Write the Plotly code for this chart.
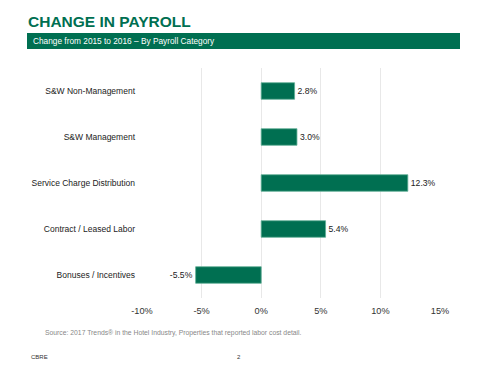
import plotly.graph_objects as go

categories = ["S&W Non-Management", "S&W Management", "Service Charge Distribution",
              "Contract / Leased Labor", "Bonuses / Incentives"]
values = [2.8, 3.0, 12.3, 5.4, -5.5]
labels = ["2.8%", "3.0%", "12.3%", "5.4%", "-5.5%"]
tick_vals = [-10, -5, 0, 5, 10, 15]
tick_text = ["-10%", "-5%", "0%", "5%", "10%", "15%"]

GREEN = "#006F51"
FONT = "Liberation Sans, Arial"

W, H = 480, 371
pl, pr, pt, pb = 142, 40, 68, 73
pw, ph = W - pl - pr, H - pt - pb

def px(x):
    return (x - pl) / pw

def py(y):
    return 1 - (y - pt) / ph

fig = go.Figure()
fig.add_trace(go.Bar(
    y=categories, x=values, orientation="h",
    marker=dict(color=GREEN, line=dict(color="#5fae96", width=0.8)),
    width=0.36,
    text=labels, textposition="outside",
    textfont=dict(family=FONT, size=8.6, color="#222222"),
    cliponaxis=False,
))

fig.update_layout(
    width=W, height=H,
    margin=dict(l=pl, r=pr, t=pt, b=pb, autoexpand=False),
    paper_bgcolor="white", plot_bgcolor="white",
    showlegend=False,
    font=dict(family=FONT, color="#222222"),
    xaxis=dict(range=[-10, 15], tickvals=tick_vals, ticktext=tick_text,
               showgrid=True, gridcolor="#e8e8e8", gridwidth=1,
               zeroline=False, showline=False, automargin=False,
               ticklabelstandoff=6,
               tickfont=dict(size=9.2, color="#333333"), ticks=""),
    yaxis=dict(autorange="reversed", showgrid=False, zeroline=False, showline=False,
               ticks="", ticklabelstandoff=6, automargin=False,
               tickfont=dict(size=8.5, color="#222222")),
)

fig.add_annotation(text="<b>CHANGE IN PAYROLL</b>", x=px(26), y=py(21),
                   xref="paper", yref="paper", xanchor="left", yanchor="middle",
                   showarrow=False, font=dict(size=15.5, color=GREEN, family=FONT))
fig.add_shape(type="rect", xref="paper", yref="paper",
              x0=px(27), x1=px(460), y0=py(33), y1=py(49),
              fillcolor=GREEN, line=dict(width=0), layer="below")
fig.add_annotation(text="Change from 2015 to 2016 \u2013 By Payroll Category", x=px(31), y=py(41),
                   xref="paper", yref="paper", xanchor="left", yanchor="middle",
                   showarrow=False, font=dict(size=8.3, color="white", family=FONT))
fig.add_annotation(text="Source: 2017 Trends\u00ae in the Hotel Industry, Properties that reported labor cost detail.",
                   x=px(43), y=py(333), xref="paper", yref="paper", xanchor="left", yanchor="middle",
                   showarrow=False, font=dict(size=6.8, color="#888888", family=FONT))
fig.add_annotation(text="CBRE", x=px(29), y=py(357), xref="paper", yref="paper",
                   xanchor="left", yanchor="middle", showarrow=False,
                   font=dict(size=6, color="#333333", family=FONT))
fig.add_annotation(text="2", x=px(239), y=py(357), xref="paper", yref="paper",
                   xanchor="center", yanchor="middle", showarrow=False,
                   font=dict(size=6, color="#333333", family=FONT))

fig.write_html("out.html", config={"displayModeBar": False},
               post_script="document.body.style.margin='0';document.body.style.overflow='hidden';")
